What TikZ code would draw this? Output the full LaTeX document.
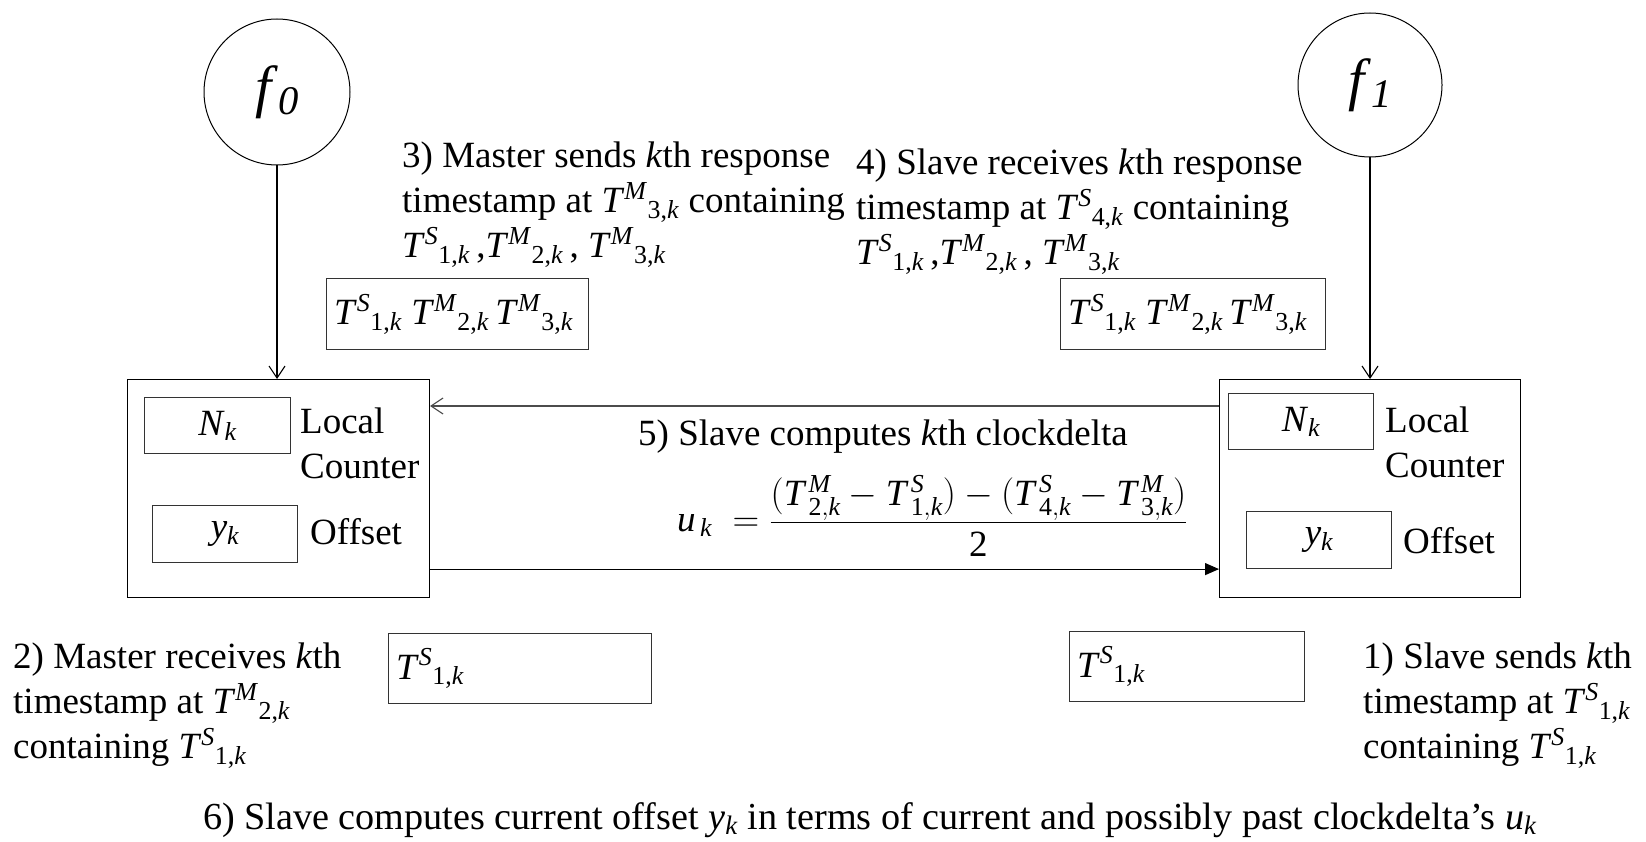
\RequirePackage{fix-cm}
\documentclass[tikz,border=0pt]{standalone}
\usepackage{fontspec}
\setmainfont{Liberation Serif}
\usetikzlibrary{arrows.meta}
\newcommand{\TT}[2]{\textit{T}\textsuperscript{\textit{#1}}\textsubscript{#2}}
\newcommand{\MT}[2]{\mathit{T}^{\,\mathit{#1}}_{\,\mathrm{#2},\mathit{k}}}
\begin{document}
\begin{tikzpicture}[x=1pt,y=-1pt,
  txt/.style={font=\fontsize{37}{45}\selectfont, inner sep=0pt, align=left, anchor=north west},
  bx/.style={draw=black!80, line width=1.4pt, inner sep=0pt, anchor=north west},
  big/.style={draw=black, line width=1.1pt, inner sep=0pt, anchor=north west},
  circ/.style={draw=black, circle, line width=1pt, inner sep=0pt},
  boxtxt/.style={font=\fontsize{37}{44}\selectfont, inner sep=0pt},
  conn/.style={line width=1.1pt}
]
\useasboundingbox (0,0) rectangle (1646,842);

% clocks
\node[circ, minimum size=146pt] (f0) at (277,92) {\fontsize{58}{60}\selectfont\textit{f}\textsubscript{\textit{0}}};
\node[circ, minimum size=144pt] (f1) at (1370,85) {\fontsize{58}{60}\selectfont\textit{f}\textsubscript{\textit{1}}};

% big boxes
\node[big, minimum width=302pt, minimum height=218pt] (bigL) at (127,379) {};
\node[big, minimum width=301pt, minimum height=218pt] (bigR) at (1219,379) {};

% inner boxes left
\node[bx, minimum width=146pt, minimum height=56pt] (nkL) at (144,397) {};
\node[boxtxt] (nkLt) at (nkL.center) {\textit{N}\textsubscript{\textit{k}}};
\node[bx, minimum width=145pt, minimum height=57pt] (ykL) at (152,505) {};
\node[boxtxt] (ykLt) at (ykL.center) {\textit{y}\textsubscript{\textit{k}}};
\node[txt] (lcL) at (300,408) {Local\\Counter};
\node[txt] (ofL) at (310,518) {Offset};

% inner boxes right
\node[bx, minimum width=145pt, minimum height=56pt] (nkR) at (1228,393) {};
\node[boxtxt] (nkRt) at (nkR.center) {\textit{N}\textsubscript{\textit{k}}};
\node[bx, minimum width=145pt, minimum height=57pt] (ykR) at (1246,511) {};
\node[boxtxt] (ykRt) at (ykR.center) {\textit{y}\textsubscript{\textit{k}}};
\node[txt] (lcR) at (1385,407) {Local\\Counter};
\node[txt] (ofR) at (1403,527) {Offset};

% message boxes top
\node[bx, minimum width=262pt, minimum height=71pt] (mL) at (326,278) {};
\node[boxtxt, anchor=west] (mLt) at ([xshift=8pt]mL.west) {\TT{S}{1,\textit{k}} \TT{M}{2,\textit{k}}\,\TT{M}{3,\textit{k}}};
\node[bx, minimum width=265pt, minimum height=71pt] (mR) at (1060,278) {};
\node[boxtxt, anchor=west] (mRt) at ([xshift=8pt]mR.west) {\TT{S}{1,\textit{k}} \TT{M}{2,\textit{k}}\,\TT{M}{3,\textit{k}}};

% message boxes bottom
\node[bx, minimum width=263pt, minimum height=70pt] (sL) at (388,633) {};
\node[boxtxt, anchor=west] (sLt) at ([xshift=8pt]sL.west) {\TT{S}{1,\textit{k}}};
\node[bx, minimum width=235pt, minimum height=70pt] (sR) at (1069,631) {};
\node[boxtxt, anchor=west] (sRt) at ([xshift=8pt]sR.west) {\TT{S}{1,\textit{k}}};

% arrows
\draw[conn, -{Straight Barb[length=12pt,width=16pt]}] (f0.south) -- (f0.south |- bigL.north);
\draw[conn, -{Straight Barb[length=12pt,width=16pt]}] (f1.south) -- (f1.south |- bigR.north);
\draw[conn, draw=black!70, -{Straight Barb[length=12pt,width=16pt]}] ([yshift=-27pt]bigR.north west) -- ([yshift=-27pt]bigL.north east);
\draw[conn, -{Triangle[length=14pt,width=12pt]}] ([yshift=29pt]bigL.south east) -- ([yshift=29pt]bigR.south west);

% texts
\node[txt] (t3) at (402,142) {3) Master sends \textit{k}th response\\timestamp at \TT{M}{3,\textit{k}} containing\\\TT{S}{1,\textit{k}}\,,\TT{M}{2,\textit{k}}\,, \TT{M}{3,\textit{k}}};
\node[txt] (t4) at (856,149) {4) Slave receives \textit{k}th response\\timestamp at \TT{S}{4,\textit{k}} containing\\\TT{S}{1,\textit{k}}\,,\TT{M}{2,\textit{k}}\,, \TT{M}{3,\textit{k}}};
\node[txt] (t5) at (638,420) {5) Slave computes \textit{k}th clockdelta};
\node[txt, anchor=base west] (eq) at (677,531) {$\mathit{u}_{\,\mathit{k}}\;=\displaystyle\frac{(\MT{M}{2}-\MT{S}{1})-(\MT{S}{4}-\MT{M}{3})}{\mathrm{2}}$};
\node[txt] (t2) at (13,643) {2) Master receives \textit{k}th\\timestamp at \TT{M}{2,\textit{k}}\\containing \TT{S}{1,\textit{k}}};
\node[txt] (t1) at (1363,643) {1) Slave sends \textit{k}th\\timestamp at \TT{S}{1,\textit{k}}\\containing \TT{S}{1,\textit{k}}};
\node[txt, font=\fontsize{38.2}{45}\selectfont, anchor=base] (t6) at (870,829) {6) Slave computes current offset \textit{y}\textsubscript{\textit{k}} in terms of current and possibly past clockdelta's \textit{u}\textsubscript{\textit{k}}};
\end{tikzpicture}
\end{document}
